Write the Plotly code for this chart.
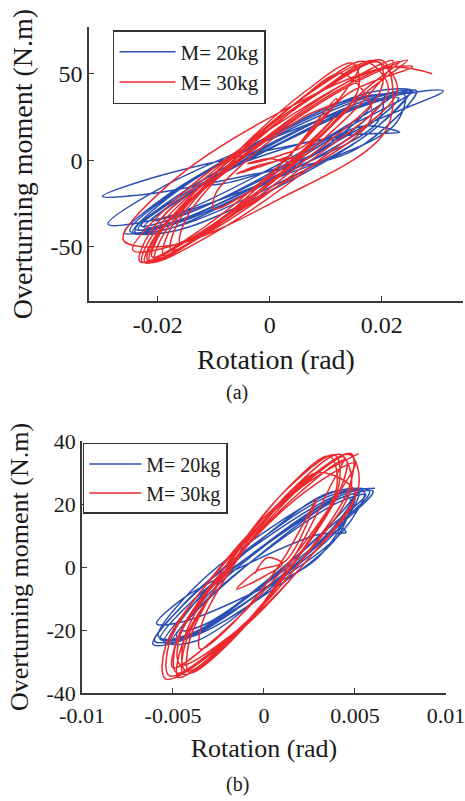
import plotly.graph_objects as go

# ---------------- Panel (a) data ----------------
a20_rot = [
    0.0260, 0.0185, 0.0005, -0.0175, -0.0250, -0.0175, 0.0005, 0.0185,
    0.0250, 0.0178, 0.0005, -0.0168, -0.0240, -0.0168, 0.0005, 0.0178,
    0.0310, 0.0222, 0.0011, -0.0201, -0.0289, -0.0201, 0.0011, 0.0222,
    0.0240, 0.0171, 0.0003, -0.0166, -0.0235, -0.0166, 0.0003, 0.0171,
    0.0230, 0.0163, 0.0000, -0.0163, -0.0230, -0.0163, 0.0000, 0.0163,
    0.0232, 0.0154, -0.0034, -0.0221, -0.0299, -0.0221, -0.0034, 0.0154,
    0.0262, 0.0191, 0.0019, -0.0154, -0.0225, -0.0154, 0.0019, 0.0191,
    0.0200, 0.0140, -0.0005, -0.0150, -0.0210, -0.0150, -0.0005, 0.0140,
    0.0220, 0.0150, -0.0020, -0.0190, -0.0260, -0.0190, -0.0020, 0.0150,
    0.0205, 0.0139, -0.0020, -0.0179, -0.0245, -0.0179, -0.0020, 0.0139,
    0.0120, 0.0085, 0.0000, -0.0085, -0.0120, -0.0085, 0.0000, 0.0085,
    0.0180, 0.0126, -0.0005, -0.0136, -0.0190, -0.0136, -0.0005, 0.0126,
    0.0255, 0.0182, 0.0007, -0.0168, -0.0241, -0.0168, 0.0007, 0.0182, 0.0255,
]
a20_mom = [
    39.0, 37.2, 13.0, -19.4, -41.0, -39.2, -15.0, 17.4,
    40.0, 35.4, 10.0, -21.2, -40.0, -35.4, -10.0, 21.2,
    40.0, 37.2, 13.5, -17.2, -37.0, -34.2, -10.5, 20.2,
    38.0, 34.4, 10.0, -20.8, -40.0, -36.4, -12.0, 18.8,
    36.0, 30.8, 7.0, -21.5, -38.0, -32.8, -9.0, 19.5,
    16.0, 14.8, 3.5, -11.4, -21.0, -19.8, -8.5, 6.4,
    40.0, 34.8, 9.5, -21.0, -39.0, -33.8, -8.5, 21.5,
    35.0, 29.0, 6.0, -20.5, -35.0, -29.0, -6.0, 20.5,
    38.0, 34.8, 10.0, -21.8, -42.0, -38.8, -14.0, 17.8,
    37.0, 34.6, 10.5, -21.2, -42.0, -39.6, -15.5, 16.2,
    12.0, 11.7, 4.0, -6.7, -14.0, -13.7, -6.0, 4.7,
    32.0, 28.2, 7.5, -17.8, -33.0, -29.2, -8.5, 16.8,
    40.0, 39.4, 15.3, -18.2, -41.4, -40.8, -16.7, 16.8, 40.0,
]

a30_rot = [
    0.0290, 0.0209, 0.0014, -0.0181, -0.0262, -0.0181, 0.0014, 0.0209,
    0.0202, 0.0092, -0.0080, -0.0214, -0.0232, -0.0122, 0.0050, 0.0184,
    0.0220, 0.0113, -0.0062, -0.0201, -0.0223, -0.0116, 0.0059, 0.0198,
    0.0195, 0.0092, -0.0075, -0.0207, -0.0228, -0.0125, 0.0042, 0.0174,
    0.0246, 0.0129, -0.0054, -0.0196, -0.0214, -0.0097, 0.0086, 0.0228,
    0.0188, 0.0092, -0.0064, -0.0186, -0.0205, -0.0109, 0.0047, 0.0169,
    0.0232, 0.0120, -0.0058, -0.0198, -0.0218, -0.0106, 0.0072, 0.0212,
    0.0170, 0.0080, -0.0058, -0.0164, -0.0176, -0.0086, 0.0052, 0.0158,
    0.0148, 0.0063, -0.0071, -0.0176, -0.0190, -0.0105, 0.0029, 0.0134,
    0.0160, 0.0071, -0.0075, -0.0191, -0.0210, -0.0121, 0.0025, 0.0141,
    0.0255, 0.0182, 0.0005, -0.0172, -0.0245, -0.0172, 0.0005, 0.0182,
    0.0130, 0.0056, -0.0060, -0.0149, -0.0160, -0.0086, 0.0030, 0.0119,
    0.0120, 0.0060, -0.0030, -0.0096, -0.0100, -0.0040, 0.0050, 0.0116,
    0.0060, 0.0020, -0.0020, -0.0040, 0.0000, 0.0030, 0.0060, 0.0020,
    -0.0020, -0.0060, -0.0020, 0.0040,
]
a30_mom = [
    50.0, 53.6, 27.0, -14.2, -46.0, -49.6, -23.0, 18.2,
    57.4, 40.4, -0.7, -41.8, -58.8, -41.8, -0.7, 40.4,
    57.4, 40.3, -1.0, -42.3, -59.4, -42.3, -1.0, 40.3,
    56.5, 39.6, -1.2, -42.1, -59.0, -42.1, -1.2, 39.6,
    57.8, 40.7, -0.5, -41.7, -58.8, -41.7, -0.5, 40.7,
    57.4, 40.5, -0.2, -40.9, -57.8, -40.9, -0.2, 40.5,
    57.0, 40.2, -0.5, -41.2, -58.0, -41.2, -0.5, 40.2,
    57.0, 41.0, 2.5, -36.0, -52.0, -36.0, 2.5, 41.0,
    56.0, 39.7, 0.5, -38.7, -55.0, -38.7, 0.5, 39.7,
    55.0, 38.7, -0.5, -39.7, -56.0, -39.7, -0.5, 38.7,
    54.0, 51.2, 19.0, -23.8, -52.0, -49.2, -17.0, 25.8,
    50.0, 35.6, 1.0, -33.6, -48.0, -33.6, 1.0, 35.6,
    34.0, 24.9, 3.0, -18.9, -28.0, -18.9, 3.0, 24.9,
    8.0, 3.0, -1.0, -2.0, 1.0, -1.0, 2.0, 0.0,
    -3.0, -8.0, -4.0, 3.0,
]

# ---------------- Panel (b) data ----------------
b20_rot = [
    0.0061, 0.0043, 0.0000, -0.0042, -0.0060, -0.0042, 0.0000, 0.0043,
    0.0055, 0.0039, 0.0000, -0.0039, -0.0055, -0.0039, 0.0000, 0.0039,
    0.0060, 0.0043, 0.0002, -0.0040, -0.0057, -0.0040, 0.0002, 0.0043,
    0.0045, 0.0030, -0.0007, -0.0044, -0.0059, -0.0044, -0.0007, 0.0030,
    0.0050, 0.0035, 0.0000, -0.0035, -0.0050, -0.0035, 0.0000, 0.0035,
    0.0050, 0.0035, -0.0001, -0.0037, -0.0052, -0.0037, -0.0001, 0.0035,
    0.0058, 0.0041, 0.0000, -0.0041, -0.0058, -0.0041, 0.0000, 0.0041,
    0.0047, 0.0034, 0.0001, -0.0032, -0.0045, -0.0032, 0.0001, 0.0034,
    0.0056, 0.0041, 0.0004, -0.0033, -0.0048, -0.0033, 0.0004, 0.0041,
    0.0052, 0.0036, -0.0005, -0.0044, -0.0061, -0.0044, -0.0005, 0.0036, 0.0052,
]
b20_mom = [
    25.0, 23.5, 8.8, -10.7, -23.5, -22.1, -7.3, 11.2,
    24.0, 21.9, 7.0, -12.0, -24.0, -21.9, -7.0, 12.0,
    24.0, 22.1, 7.5, -11.1, -23.0, -21.1, -6.5, 12.2,
    11.0, 10.3, 1.5, -9.8, -18.0, -17.3, -8.5, 3.2,
    23.0, 19.8, 5.0, -12.7, -23.0, -19.8, -5.0, 12.7,
    24.0, 23.4, 9.0, -10.6, -24.0, -23.4, -9.0, 10.6,
    24.0, 24.3, 11.0, -8.2, -22.0, -22.3, -9.0, 10.2,
    22.0, 20.1, 7.0, -9.6, -20.0, -18.1, -5.0, 11.6,
    23.0, 20.6, 6.5, -11.2, -22.0, -19.6, -5.5, 12.2,
    24.0, 22.6, 7.4, -11.7, -24.5, -23.1, -7.9, 11.2, 24.0,
]

b30_rot = [
    0.0052, 0.0021, -0.0023, -0.0054, -0.0054, -0.0023, 0.0021, 0.0052,
    0.0047, 0.0020, -0.0020, -0.0048, -0.0048, -0.0021, 0.0019, 0.0047,
    0.0048, 0.0019, -0.0023, -0.0052, -0.0052, -0.0023, 0.0019, 0.0048,
    0.0042, 0.0017, -0.0018, -0.0043, -0.0044, -0.0019, 0.0016, 0.0041,
    0.0039, 0.0014, -0.0020, -0.0044, -0.0043, -0.0018, 0.0016, 0.0040,
    0.0036, 0.0013, -0.0019, -0.0041, -0.0041, -0.0018, 0.0014, 0.0036,
    0.0044, 0.0019, -0.0018, -0.0045, -0.0047, -0.0022, 0.0015, 0.0042,
    0.0045, 0.0021, -0.0018, -0.0047, -0.0050, -0.0026, 0.0013, 0.0042,
    0.0050, 0.0022, -0.0018, -0.0046, -0.0046, -0.0018, 0.0022, 0.0050,
    0.0030, 0.0012, -0.0015, -0.0034, -0.0035, -0.0017, 0.0010, 0.0029,
    0.0012, -0.0003, -0.0010, -0.0015, 0.0000, 0.0010, 0.0002, -0.0005,
]
b30_mom = [
    36.0, 25.5, 0.3, -25.0, -35.5, -25.0, 0.3, 25.5,
    35.7, 25.6, 1.0, -23.5, -33.6, -23.5, 1.0, 25.6,
    36.0, 25.7, 0.8, -24.2, -34.5, -24.2, 0.8, 25.7,
    35.7, 25.5, 0.8, -23.9, -34.1, -23.9, 0.8, 25.5,
    35.5, 25.5, 1.2, -23.0, -33.0, -23.0, 1.2, 25.5,
    35.2, 25.1, 0.8, -23.5, -33.6, -23.5, 0.8, 25.1,
    35.0, 24.7, 0.0, -24.7, -35.0, -24.7, 0.0, 24.7,
    34.0, 24.3, 1.0, -22.3, -32.0, -22.3, 1.0, 24.3,
    33.0, 23.6, 1.0, -21.6, -31.0, -21.6, 1.0, 23.6,
    30.0, 21.8, 2.0, -17.8, -26.0, -17.8, 2.0, 21.8,
    2.0, -1.0, -4.0, -7.0, -3.0, 1.0, 3.0, -2.0,
]

series_names = ["M= 20kg", "M= 30kg"]
a_xticks = [-0.02, 0, 0.02]
a_xticklabels = ["-0.02", "0", "0.02"]
a_yticks = [-50, 0, 50]
a_yticklabels = ["-50", "0", "50"]
b_xticks = [-0.01, -0.005, 0, 0.005, 0.01]
b_xticklabels = ["-0.01", "-0.005", "0", "0.005", "0.01"]
b_yticks = [-40, -20, 0, 20, 40]
b_yticklabels = ["-40", "-20", "0", "20", "40"]

BLUE = "#2b50b3"
RED = "#ec2a2e"
FONT = "Liberation Serif"
AX = "#3a3a3a"

fig = go.Figure()
line_style = dict(width=1.5, shape="spline", smoothing=1.0)

fig.add_trace(go.Scatter(x=a20_rot, y=a20_mom, mode="lines", name=series_names[0],
                         line=dict(color=BLUE, **line_style), xaxis="x", yaxis="y", legend="legend"))
fig.add_trace(go.Scatter(x=a30_rot, y=a30_mom, mode="lines", name=series_names[1],
                         line=dict(color=RED, **line_style), xaxis="x", yaxis="y", legend="legend"))
fig.add_trace(go.Scatter(x=b20_rot, y=b20_mom, mode="lines", name=series_names[0],
                         line=dict(color=BLUE, **line_style), xaxis="x2", yaxis="y2", legend="legend2"))
fig.add_trace(go.Scatter(x=b30_rot, y=b30_mom, mode="lines", name=series_names[1],
                         line=dict(color=RED, **line_style), xaxis="x2", yaxis="y2", legend="legend2"))


def axis_style(size):
    return dict(showgrid=False, zeroline=False, showline=True, linecolor=AX, linewidth=1.5,
                ticks="inside", ticklen=5, tickcolor=AX, tickwidth=1.2, mirror=False,
                automargin=False, ticklabeloverflow="allow",
                tickfont=dict(family=FONT, size=size, color="#1a1a1a"))


fig.update_layout(
    width=465, height=801,
    margin=dict(l=0, r=0, t=0, b=0),
    paper_bgcolor="white", plot_bgcolor="white",
    font=dict(family=FONT, color="#1a1a1a"),
    xaxis=dict(domain=[0.1914, 0.9957], range=[-0.0323, 0.0345], anchor="y",
               tickvals=a_xticks, ticktext=a_xticklabels, ticklabelstandoff=1,
               title=dict(text="Rotation (rad)", font=dict(family=FONT, size=28), standoff=13),
               **axis_style(24)),
    yaxis=dict(domain=[0.6242, 0.9663], range=[-81.5, 77], anchor="x",
               tickvals=a_yticks, ticktext=a_yticklabels,
               title=dict(text="Overturning moment (N.m)", font=dict(family=FONT, size=28), standoff=10),
               **axis_style(24)),
    xaxis2=dict(domain=[0.1763, 0.9591], range=[-0.01, 0.01], anchor="y2",
                tickvals=b_xticks, ticktext=b_xticklabels, ticklabelstandoff=2,
                title=dict(text="Rotation (rad)", font=dict(family=FONT, size=26), standoff=12),
                **axis_style(22)),
    yaxis2=dict(domain=[0.1348, 0.4494], range=[-40, 40], anchor="x2",
                tickvals=b_yticks, ticktext=b_yticklabels,
                title=dict(text="Overturning moment (N.m)", font=dict(family=FONT, size=26), standoff=10),
                **axis_style(22)),
    legend=dict(x=0.2430, y=0.9625, xanchor="left", yanchor="top",
                bordercolor="#333", borderwidth=1.5, bgcolor="white",
                font=dict(family=FONT, size=21), itemwidth=56, tracegroupgap=0,
                entrywidth=88, entrywidthmode="pixels"),
    legend2=dict(x=0.1780, y=0.4470, xanchor="left", yanchor="top",
                 bordercolor="#333", borderwidth=1.5, bgcolor="white",
                 font=dict(family=FONT, size=20), itemwidth=52, tracegroupgap=0,
                 entrywidth=82, entrywidthmode="pixels"),
    annotations=[
        dict(text="(a)", x=0.5097, y=0.5094, xref="paper", yref="paper", showarrow=False,
             font=dict(family=FONT, size=20), xanchor="center", yanchor="middle"),
        dict(text="(b)", x=0.5097, y=0.02, xref="paper", yref="paper", showarrow=False,
             font=dict(family=FONT, size=20), xanchor="center", yanchor="middle"),
    ],
)

fig.write_html("out.html", config={"displayModeBar": False},
               post_script="document.body.style.margin='0px';")
